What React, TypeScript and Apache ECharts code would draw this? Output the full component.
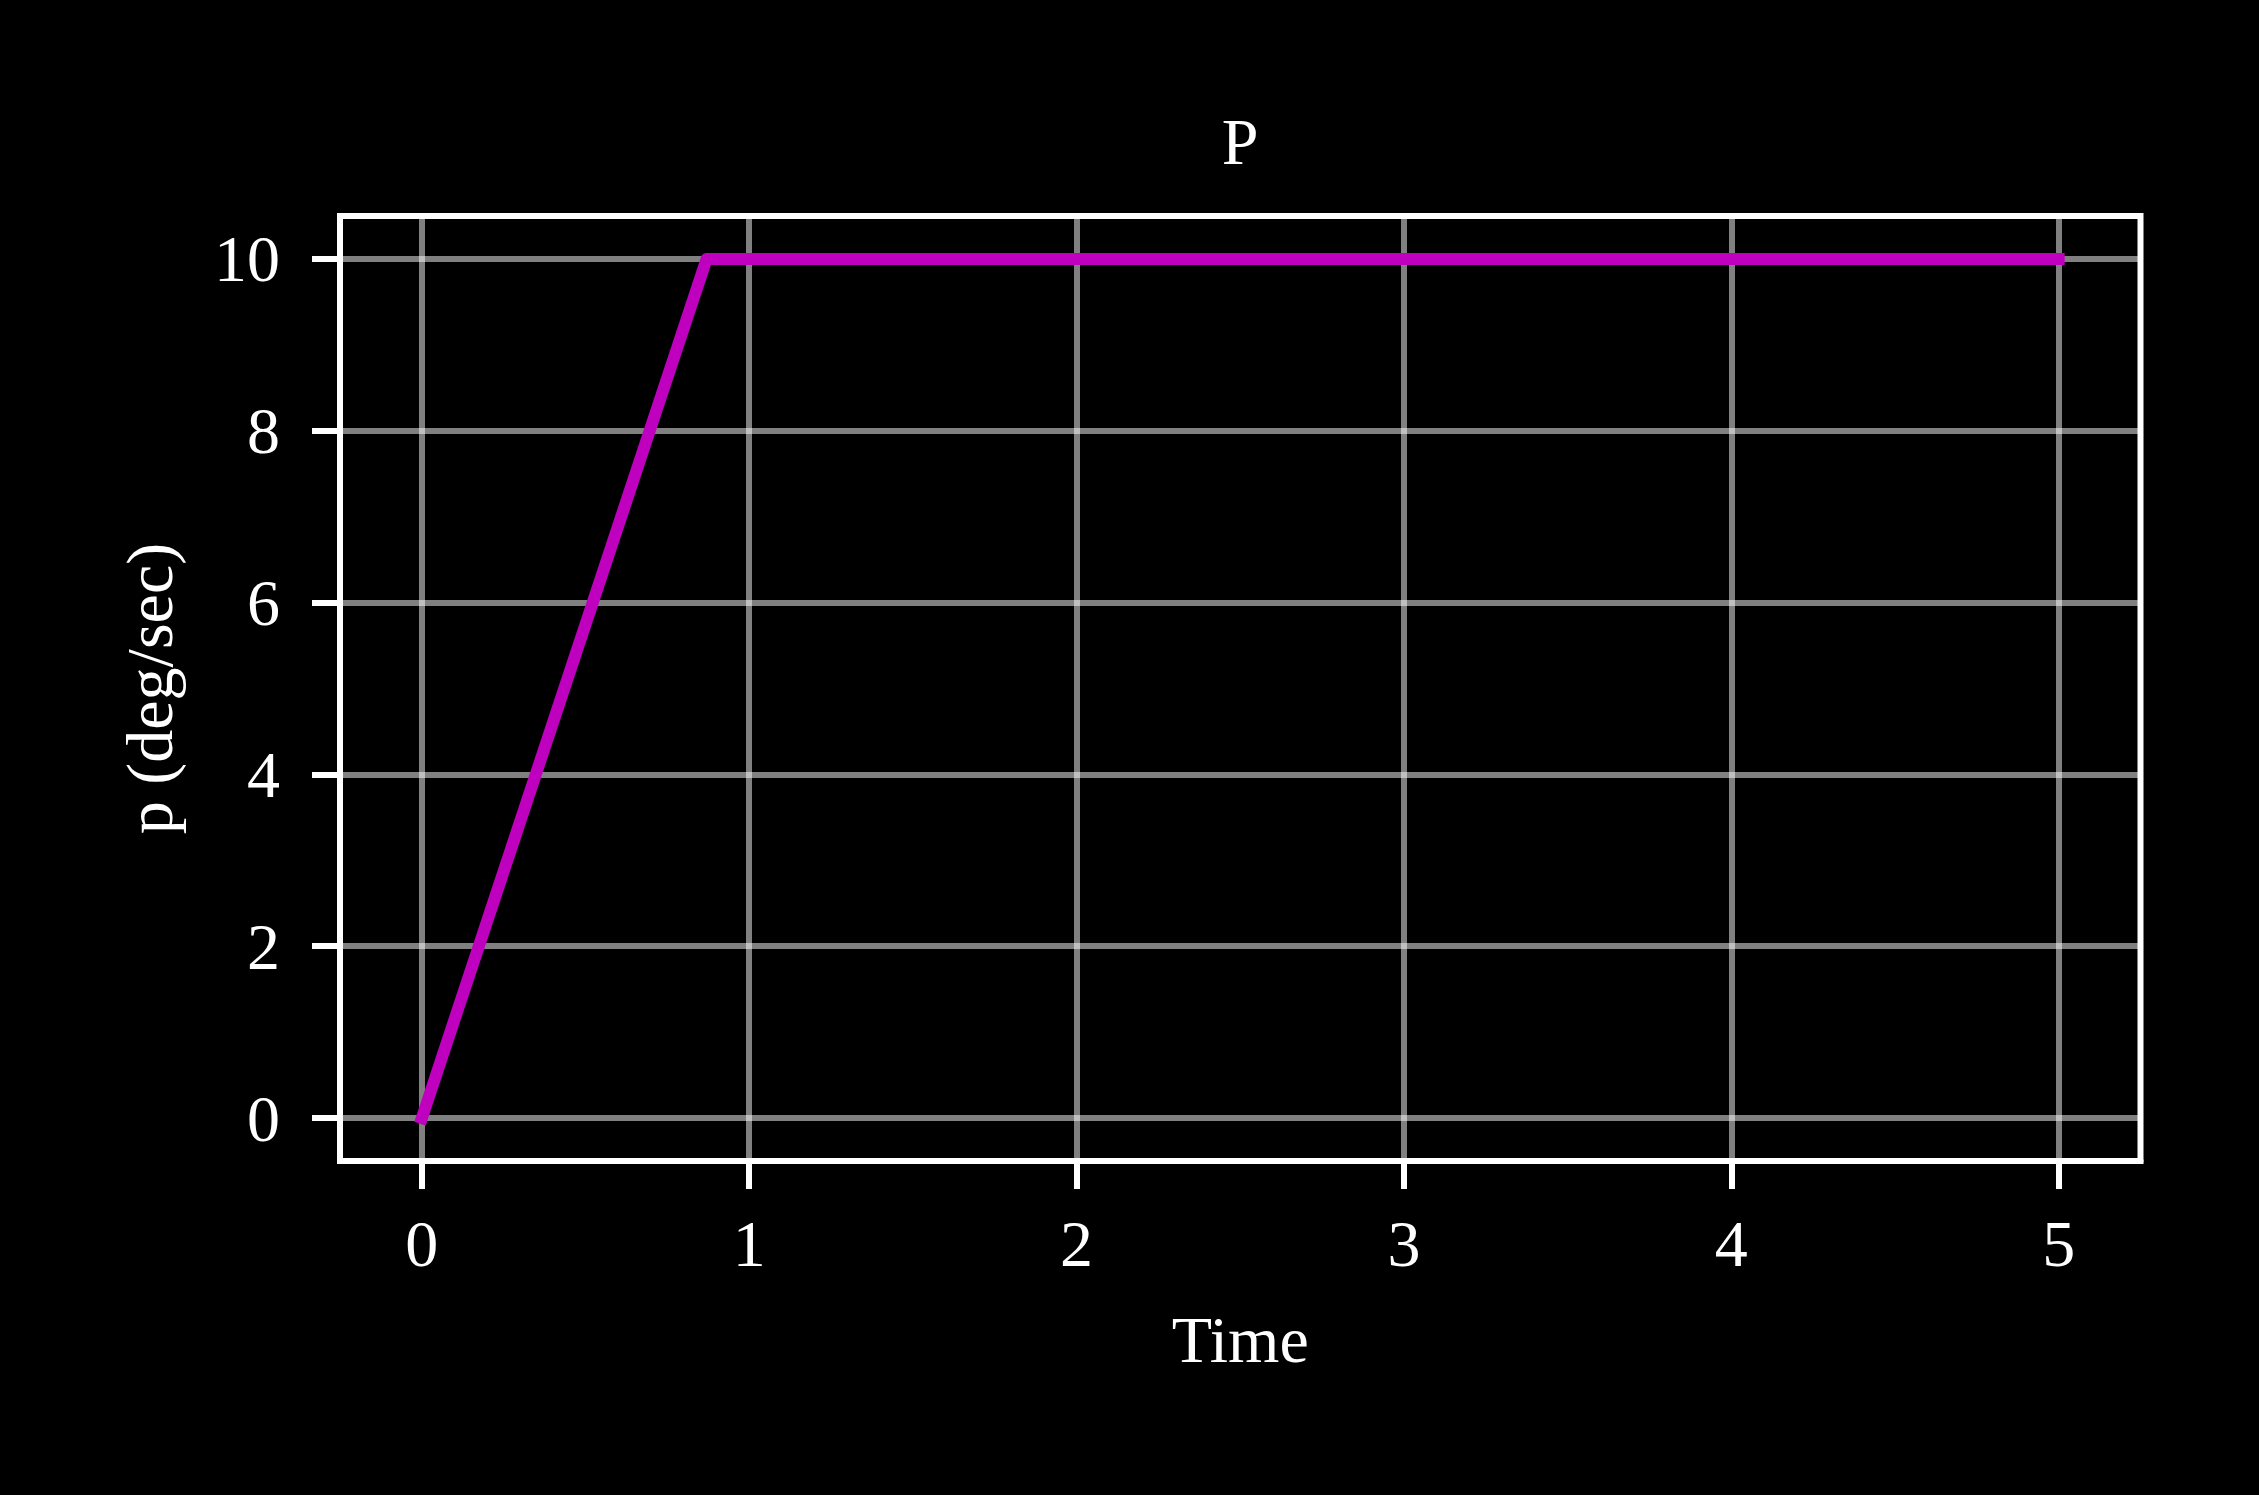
import React, { useEffect, useRef } from "react";
import * as echarts from "echarts";

const timeValues = [0, 0.87, 5];
const pValues = [0, 10, 10];
const xTicks = [0, 1, 2, 3, 4, 5];
const yTicks = [0, 2, 4, 6, 8, 10];
const titleText = "P";
const xName = "Time";
const yName = "p (deg/sec)";

const FONT = "'Liberation Serif', 'Times New Roman', serif";
const FS = 66;

export default function App() {
  const ref = useRef<HTMLDivElement>(null);
  useEffect(() => {
    document.body.style.margin = "0";
    document.body.style.background = "#000";
    const chart = echarts.init(ref.current!, null, { renderer: "svg" });
    const axisCommon = {
      axisLine: { show: true, onZero: false, lineStyle: { color: "#fff", width: 6 } },
      axisTick: { show: true, length: 28, lineStyle: { color: "#fff", width: 6 } },
      splitLine: { show: true, lineStyle: { color: "rgba(255,255,255,0.5)", width: 6 } },
      nameLocation: "middle" as const,
      nameTextStyle: { color: "#fff", fontFamily: FONT, fontSize: FS, lineHeight: FS },
    };
    chart.setOption({
      animation: false,
      backgroundColor: "#000",
      title: {
        text: titleText,
        left: 1240,
        textAlign: "center",
        top: 108,
        padding: 0,
        textStyle: { color: "#fff", fontFamily: FONT, fontSize: FS, fontWeight: "normal", lineHeight: FS },
      },
      grid: {
        left: 340,
        top: 216,
        width: 1800.5,
        height: 945,
        show: true,
        borderColor: "#fff",
        borderWidth: 6,
        backgroundColor: "transparent",
      },
      xAxis: {
        ...axisCommon,
        type: "value",
        min: -0.25,
        max: 5.25,
        name: xName,
        nameGap: 145,
        axisTick: { ...axisCommon.axisTick, customValues: xTicks },
        axisLabel: {
          customValues: xTicks,
          color: "#fff",
          fontFamily: FONT,
          fontSize: FS,
          lineHeight: FS,
          margin: 49,
        },
      },
      yAxis: {
        ...axisCommon,
        type: "value",
        min: -0.5,
        max: 10.5,
        name: yName,
        nameGap: 158,
        axisTick: { ...axisCommon.axisTick, customValues: yTicks },
        axisLabel: {
          customValues: yTicks,
          color: "#fff",
          fontFamily: FONT,
          fontSize: FS,
          lineHeight: FS,
          margin: 60,
        },
      },
      series: [
        {
          type: "line",
          data: timeValues.map((t, i) => [t, pValues[i]]),
          showSymbol: false,
          symbol: "none",
          lineStyle: { color: "#bf00bf", width: 12, cap: "square", join: "round" },
          z: 5,
        },
      ],
    });
    return () => chart.dispose();
  }, []);
  return <div ref={ref} style={{ width: 2259, height: 1495 }} />;
}
